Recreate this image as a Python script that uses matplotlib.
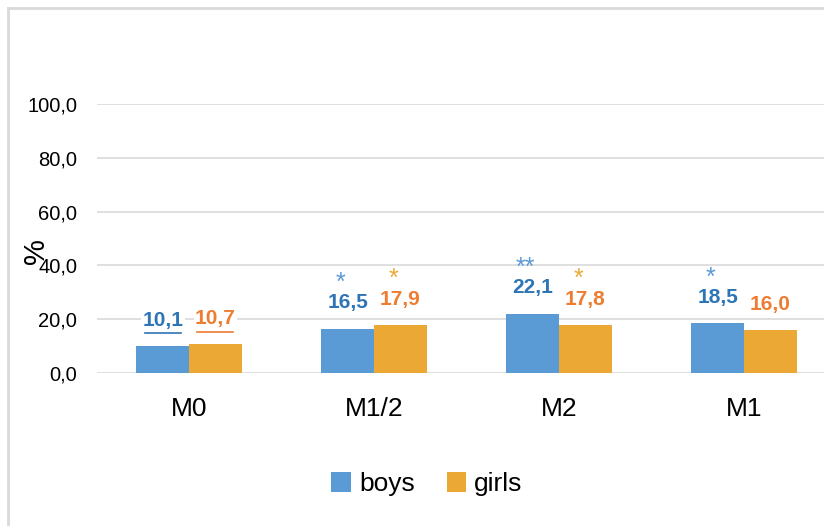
import matplotlib
matplotlib.use("Agg")
import matplotlib.pyplot as plt
import matplotlib.transforms as mtransforms
from matplotlib.lines import Line2D

plt.rcParams['font.family'] = ['Liberation Sans Narrow', 'Liberation Sans', 'DejaVu Sans']

# data
categories = ["M0", "M1/2", "M2", "M1"]
boys = [10.1, 16.5, 22.1, 18.5]
girls = [10.7, 17.9, 17.8, 16.0]
boys_stars = ["", "*", "**", "*"]
girls_stars = ["", "*", "*", ""]
underlined = [True, False, False, False]
yticks = [0, 20, 40, 60, 80, 100]

BOYS_BAR = "#5B9BD5"
GIRLS_BAR = "#EBA834"
BOYS_TEXT = "#2E75B6"
GIRLS_TEXT = "#ED7D31"
GRID = "#D9D9D9"


def fmt(v):
    return f"{v:.1f}".replace(".", ",")


def main():
    fig = plt.figure(figsize=(8.24, 5.26), dpi=100)
    ax = fig.add_axes([96.5 / 824, 1 - 373 / 526, 1 - 96.5 / 824, 269 / 526])

    w = 0.285
    x = list(range(len(categories)))
    xb = [i - w / 2 for i in x]
    xg = [i + w / 2 for i in x]
    ax.bar(xb, boys, width=w, color=BOYS_BAR, label="boys", zorder=3)
    ax.bar(xg, girls, width=w, color=GIRLS_BAR, label="girls", zorder=3)

    ax.set_xlim(-0.5, (824 - 189) / 185)
    ax.set_ylim(0, 100)
    ax.set_yticks(yticks)
    ax.set_yticklabels([fmt(v) for v in yticks], fontsize=14.5)
    ax.set_xticks(x)
    ax.set_xticklabels(categories, fontsize=19)
    ax.tick_params(axis="both", length=0)
    ax.tick_params(axis="y", pad=14)
    ax.tick_params(axis="x", pad=17)
    ax.grid(axis="y", color=GRID, linewidth=1.2, zorder=0)
    for s in ax.spines.values():
        s.set_visible(False)

    for xs, vals, stars, tcol, scol in ((xb, boys, boys_stars, BOYS_TEXT, BOYS_BAR),
                                        (xg, girls, girls_stars, GIRLS_TEXT, GIRLS_BAR)):
        for i, (xx, v, st) in enumerate(zip(xs, vals, stars)):
            ax.annotate(fmt(v), (xx, v), xytext=(0, 18.5), textcoords="offset points",
                        ha="center", va="center", fontsize=15, fontweight="bold",
                        color=tcol, zorder=5,
                        bbox=dict(facecolor="white", edgecolor="none", pad=1))
            if st:
                ax.annotate(st, (xx, v), xytext=(-5, 33), textcoords="offset points",
                            ha="center", va="center", fontsize=18, color=scol, zorder=6)
            if underlined[i]:
                trans = ax.transData + mtransforms.ScaledTranslation(0, 9 / 72, fig.dpi_scale_trans)
                ax.plot([xx - 0.098, xx + 0.098], [v, v], color=tcol, linewidth=1.2,
                        transform=trans, zorder=6)

    fig.text(36 / 824, 1 - 251 / 526, "%", rotation=90, fontsize=21,
             ha="center", va="center")

    fig.legend(loc="center", bbox_to_anchor=(427 / 824, 1 - 484 / 526), ncol=2,
               frameon=False, fontsize=19, handlelength=0.75, handleheight=0.8,
               handletextpad=0.3, columnspacing=1.2)

    # chart border (top and left visible)
    fig.add_artist(Line2D([8 / 824, 8 / 824], [0, 1 - 8 / 526], color=GRID,
                          linewidth=2, transform=fig.transFigure))
    fig.add_artist(Line2D([8 / 824, 1], [1 - 8 / 526, 1 - 8 / 526], color=GRID,
                          linewidth=2, transform=fig.transFigure))

    fig.savefig("out.png", dpi=100, facecolor="white")


if __name__ == "__main__":
    main()
